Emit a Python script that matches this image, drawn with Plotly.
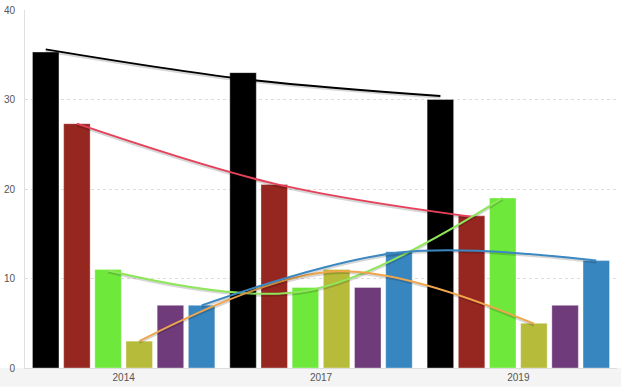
import plotly.graph_objects as go

categories = ["2014", "2017", "2019"]
series_names = ["A", "B", "C", "D", "E", "F"]
bar_values = {
    "A": [35.3, 33.0, 30.0],
    "B": [27.3, 20.5, 17.0],
    "C": [11.0, 9.0, 19.0],
    "D": [3.0, 11.0, 5.0],
    "E": [7.0, 9.0, 7.0],
    "F": [7.0, 13.0, 12.0],
}
bar_colors = ["#000000", "#962620", "#6ee83b", "#b6bb3a", "#6f3b7b", "#3886bf"]

# trend lines (series -> values at each category)
trend_values = {
    "A": [35.6, 32.3, 30.4],
    "B": [27.3, 20.6, 16.9],
    "C": [10.9, 8.6, 19.0],
    "D": [3.0, 10.8, 4.95],
    "F": [7.0, 12.9, 12.0],
}
trend_colors = {"A": "#000000", "B": "#e6405a", "C": "#8ee65a", "D": "#f0a64c", "F": "#3a88c2"}

BARGAP = 0.052
BARGROUPGAP = 0.15
n = len(series_names)
xs = list(range(len(categories)))

fig = go.Figure()
for j, name in enumerate(series_names):
    fig.add_trace(go.Bar(
        x=xs, y=bar_values[name], name=name,
        marker=dict(color=bar_colors[j], line=dict(color="rgba(255,255,255,0.35)", width=1)),
        showlegend=False,
    ))

slot = (1 - BARGAP) / n
for j, name in enumerate(series_names):
    if name not in trend_values:
        continue
    lx = [i + (j - (n - 1) / 2) * slot for i in xs]
    ly = trend_values[name]
    fig.add_trace(go.Scatter(
        x=lx, y=[v - 0.18 for v in ly], mode="lines",
        line=dict(color="rgba(0,0,0,0.16)", width=2.5, shape="spline"),
        showlegend=False, hoverinfo="skip",
    ))
    fig.add_trace(go.Scatter(
        x=lx, y=ly, mode="lines",
        line=dict(color=trend_colors[name], width=2, shape="spline"),
        showlegend=False,
    ))

fig.add_shape(type="rect", xref="paper", yref="paper", x0=-0.05, x1=1.01,
              y0=-19 / 361, y1=0, fillcolor="#f4f4f4", line=dict(width=0), layer="below")

fig.update_layout(
    width=621, height=387,
    margin=dict(l=25, r=4, t=7, b=19),
    paper_bgcolor="white", plot_bgcolor="white",
    barmode="group", bargap=BARGAP, bargroupgap=BARGROUPGAP,
    font=dict(family="Liberation Sans, Arial, sans-serif", size=10, color="#555555"),
    xaxis=dict(range=[-0.5, 2.5], tickvals=xs, ticktext=categories, showgrid=False,
               zeroline=False, showline=True, linecolor="#dddddd", ticks="", tickfont=dict(size=10)),
    yaxis=dict(range=[0, 40], dtick=10, showgrid=True, gridcolor="#dddddd", griddash="dot",
               zeroline=False, showline=True, linecolor="#e0e0e0", ticks="", ticklabelstandoff=7,
               tickfont=dict(size=10)),
)

fig.write_html("out.html", config={"displayModeBar": False},
               post_script="document.body.style.margin='0';document.body.style.overflow='hidden';")
